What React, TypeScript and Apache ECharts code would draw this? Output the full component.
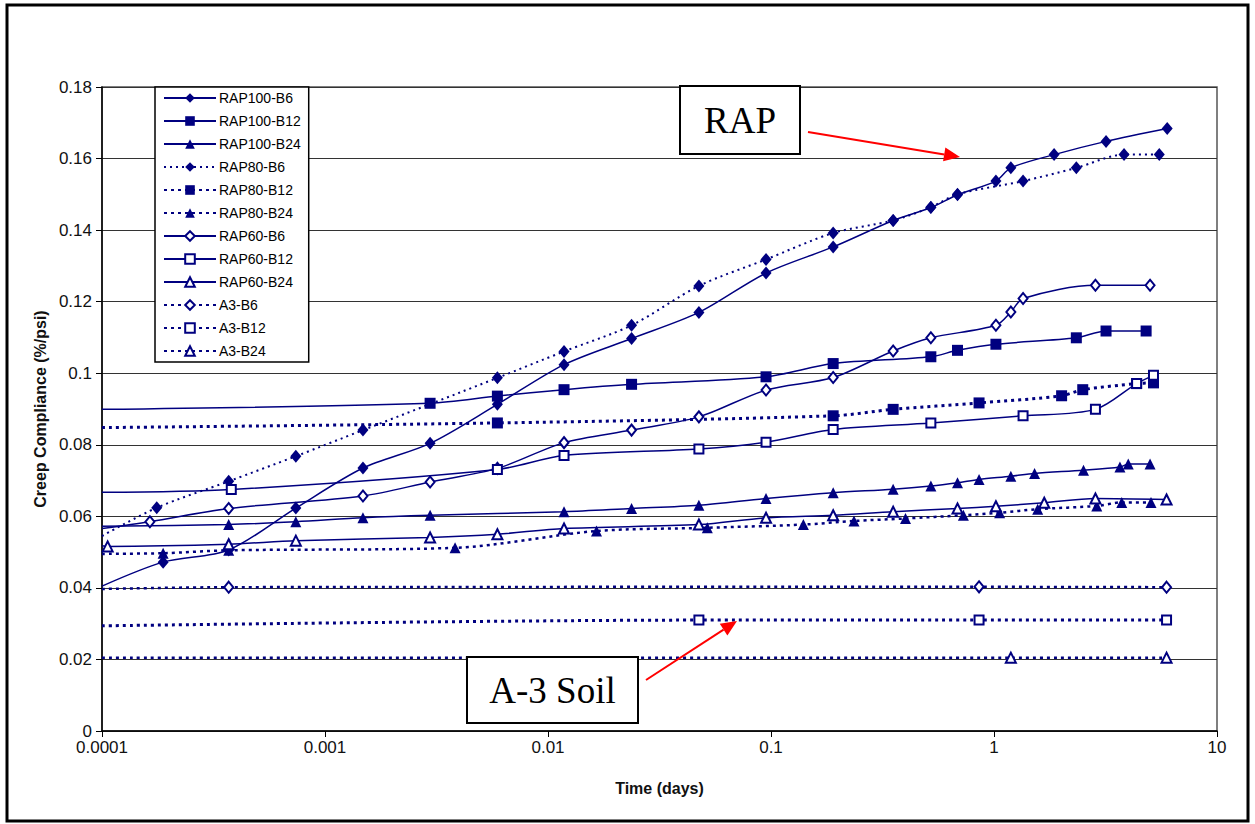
import React, { useEffect, useRef } from 'react';
import * as echarts from 'echarts';

// ---- data (time in days, creep compliance in %/psi) ----
const seriesNames = [
  'RAP100-B6', 'RAP100-B12', 'RAP100-B24',
  'RAP80-B6', 'RAP80-B12', 'RAP80-B24',
  'RAP60-B6', 'RAP60-B12', 'RAP60-B24',
  'A3-B6', 'A3-B12', 'A3-B24',
];

const rap100B6 = [[1e-4, 0.0405], [1.88e-4, 0.0472], [3.7e-4, 0.0506], [7.4e-4, 0.0623], [1.48e-3, 0.0735], [2.96e-3, 0.0804], [5.93e-3, 0.0913], [0.0118, 0.1024], [0.0237, 0.1097], [0.0475, 0.117], [0.095, 0.128], [0.19, 0.1353], [0.353, 0.1427], [0.521, 0.1463], [0.686, 0.1499], [1.02, 0.1537], [1.19, 0.1574], [1.86, 0.1611], [3.18, 0.1648], [5.98, 0.1684]];
const rap100B12 = [[1e-4, 0.0899], [2.96e-3, 0.0916], [5.93e-3, 0.0936], [0.0118, 0.0954], [0.0237, 0.0969], [0.095, 0.099], [0.19, 0.1027], [0.521, 0.1046], [0.686, 0.1064], [1.02, 0.1081], [2.34, 0.1099], [3.18, 0.1118], [4.81, 0.1118]];
const rap100B24 = [[1e-4, 0.0572], [3.7e-4, 0.0577], [7.4e-4, 0.0585], [1.48e-3, 0.0596], [2.96e-3, 0.0603], [0.0118, 0.0613], [0.0237, 0.0622], [0.0475, 0.0631], [0.095, 0.065], [0.19, 0.0666], [0.353, 0.0676], [0.521, 0.0685], [0.686, 0.0694], [0.857, 0.0703], [1.19, 0.0712], [1.52, 0.072], [2.52, 0.0729], [3.67, 0.0738], [4.0, 0.0746], [5.01, 0.0746]];
const rap80B6 = [[1e-4, 0.0545], [1.76e-4, 0.0624], [3.7e-4, 0.0698], [7.4e-4, 0.0768], [1.48e-3, 0.0841], [5.93e-3, 0.0987], [0.0118, 0.1061], [0.0237, 0.1134], [0.0475, 0.1244], [0.095, 0.1318], [0.19, 0.1392], [0.353, 0.1427], [0.521, 0.1464], [0.686, 0.15], [1.35, 0.1537], [2.34, 0.1574], [3.83, 0.1611], [5.51, 0.1611]];
const rap80B12 = [[1e-4, 0.0848], [5.93e-3, 0.0861], [0.19, 0.0881], [0.353, 0.0899], [0.857, 0.0917], [2.01, 0.0937], [2.5, 0.0954], [4.36, 0.0971], [5.19, 0.0973]];
const rap80B24 = [[1e-4, 0.0495], [1.88e-4, 0.0497], [3.7e-4, 0.0505], [3.83e-3, 0.0512], [0.0165, 0.0559], [0.0518, 0.0568], [0.1397, 0.0577], [0.2356, 0.0587], [0.401, 0.0594], [0.729, 0.0603], [1.06, 0.061], [1.57, 0.062], [2.89, 0.0629], [3.74, 0.0639], [5.06, 0.0639]];
const rap60B6 = [[1e-4, 0.0566], [1.64e-4, 0.0585], [3.7e-4, 0.0622], [1.48e-3, 0.0657], [2.96e-3, 0.0696], [5.93e-3, 0.0734], [0.0118, 0.0806], [0.0237, 0.0841], [0.0475, 0.0878], [0.095, 0.0953], [0.19, 0.0988], [0.353, 0.1062], [0.521, 0.1099], [1.02, 0.1134], [1.19, 0.1171], [1.35, 0.1209], [2.85, 0.1246], [5.01, 0.1246]];
const rap60B12 = [[1e-4, 0.0667], [3.8e-4, 0.0675], [5.93e-3, 0.0731], [0.0118, 0.077], [0.0475, 0.0788], [0.095, 0.0807], [0.19, 0.0843], [0.521, 0.0861], [1.35, 0.0881], [2.85, 0.0899], [4.36, 0.0971], [5.19, 0.0994]];
const rap60B24 = [[1e-4, 0.0518], [1.06e-4, 0.0516], [3.7e-4, 0.0522], [7.4e-4, 0.0532], [2.96e-3, 0.0541], [5.93e-3, 0.055], [0.0118, 0.0566], [0.0475, 0.0577], [0.095, 0.0596], [0.19, 0.0603], [0.353, 0.0613], [0.686, 0.0622], [1.02, 0.0628], [1.68, 0.0638], [2.85, 0.065], [5.94, 0.0647]];
const a3B6 = [[1e-4, 0.0397], [3.7e-4, 0.0402], [0.857, 0.0403], [5.94, 0.0402]];
const a3B12 = [[1e-4, 0.0294], [0.0475, 0.031], [0.857, 0.031], [5.94, 0.031]];
const a3B24 = [[1e-4, 0.0205], [1.19, 0.0205], [5.94, 0.0205]];

const xTickLabels = ['0.0001', '0.001', '0.01', '0.1', '1', '10'];
const yTickLabels = ['0', '0.02', '0.04', '0.06', '0.08', '0.1', '0.12', '0.14', '0.16', '0.18'];

const seriesData = [rap100B6, rap100B12, rap100B24, rap80B6, rap80B12, rap80B24, rap60B6, rap60B12, rap60B24, a3B6, a3B12, a3B24];

const NAVY = '#000080';
const FONT = '"Liberation Sans", Arial, sans-serif';

type Style = { symbol: string; size: number | number[]; width: number; dash: any };
const styles: Style[] = [
  { symbol: 'diamond', size: [11, 13], width: 1.5, dash: 'solid' },
  { symbol: 'rect', size: 11, width: 1.5, dash: 'solid' },
  { symbol: 'triangle', size: 11, width: 1.5, dash: 'solid' },
  { symbol: 'diamond', size: [11, 13], width: 2, dash: [2, 4] },
  { symbol: 'rect', size: 11, width: 3, dash: [3, 4] },
  { symbol: 'triangle', size: 11, width: 2.5, dash: [3, 4] },
  { symbol: 'emptyDiamond', size: [9, 11], width: 1.5, dash: 'solid' },
  { symbol: 'emptyRect', size: 9, width: 1.5, dash: 'solid' },
  { symbol: 'emptyTriangle', size: 10, width: 1.5, dash: 'solid' },
  { symbol: 'emptyDiamond', size: [9, 11], width: 2.5, dash: [3, 4] },
  { symbol: 'emptyRect', size: 9, width: 3, dash: [3, 4] },
  { symbol: 'emptyTriangle', size: 10, width: 2.5, dash: [3, 4] },
];

function arrow(x1: number, y1: number, x2: number, y2: number, head: number, half: number) {
  const dx = x2 - x1, dy = y2 - y1;
  const len = Math.sqrt(dx * dx + dy * dy);
  const ux = dx / len, uy = dy / len;
  const bx = x2 - ux * head, by = y2 - uy * head;
  const px = -uy, py = ux;
  return [
    { type: 'line', shape: { x1, y1, x2: bx, y2: by }, style: { stroke: '#ff0000', lineWidth: 2 }, z: 100 },
    {
      type: 'polygon',
      shape: { points: [[x2, y2], [bx + px * half, by + py * half], [bx - px * half, by - py * half]] },
      style: { fill: '#ff0000' }, z: 100,
    },
  ];
}

function boxLabel(x: number, y: number, w: number, h: number, text: string) {
  return [
    { type: 'rect', shape: { x, y, width: w, height: h }, style: { fill: '#fff', stroke: '#000', lineWidth: 2 }, z: 100 },
    {
      type: 'text', x: x + w / 2, y: y + h / 2, z: 101,
      style: {
        text, fill: '#000', fontSize: 37, fontFamily: '"Liberation Serif", "Times New Roman", serif',
        align: 'center', verticalAlign: 'middle', textAlign: 'center', textVerticalAlign: 'middle',
      },
    },
  ];
}

export default function App() {
  const ref = useRef<HTMLDivElement>(null);
  useEffect(() => {
    if (!ref.current) return;
    const chart = echarts.init(ref.current, undefined, { renderer: 'svg' });
    const series = seriesNames.map((name, i) => {
      const st = styles[i];
      const data = seriesData[i].map((p, j) => (j === 0 ? { value: p, symbol: 'none' } : p));
      return {
        name,
        type: 'line',
        data,
        smooth: 0.3,
        symbol: st.symbol,
        symbolSize: st.size,
        showAllSymbol: true,
        lineStyle: { color: NAVY, width: st.width, type: st.dash },
        itemStyle: { color: NAVY, borderColor: NAVY, borderWidth: st.symbol.startsWith('empty') ? 1.5 : 0 },
        emphasis: { disabled: true },
      };
    });
    chart.setOption({
      animation: false,
      backgroundColor: '#fff',
      textStyle: { fontFamily: FONT },
      grid: { left: 102, right: 38, top: 87, bottom: 93, show: true, borderColor: '#555', borderWidth: 1.5 },
      legend: {
        orient: 'vertical',
        left: 155,
        top: 87,
        itemWidth: 52,
        itemHeight: 12,
        itemGap: 9,
        padding: [4, 8, 4, 8],
        backgroundColor: '#fff',
        borderColor: '#000',
        borderWidth: 1.5,
        selectedMode: false,
        textStyle: { fontSize: 14, color: '#000', fontFamily: FONT, padding: [0, 0, 0, -2] },
        data: seriesNames,
      },
      xAxis: {
        type: 'log',
        logBase: 10,
        min: 0.0001,
        max: 10,
        splitNumber: 5,
        name: 'Time (days)',
        nameLocation: 'middle',
        nameGap: 49,
        nameTextStyle: { fontSize: 16, fontWeight: 'bold', color: '#111', fontFamily: FONT },
        axisLine: { lineStyle: { color: '#000', width: 1.5 } },
        axisTick: { show: true, inside: false, length: 6, lineStyle: { color: '#000' } },
        minorTick: { show: false },
        splitLine: { show: false },
        axisLabel: {
          fontSize: 17, color: '#111', margin: 8, fontFamily: FONT,
          formatter: (v: number) => xTickLabels[Math.round(Math.log10(v)) + 4] ?? '',
        },
      },
      yAxis: {
        type: 'value',
        min: 0,
        max: 0.18,
        interval: 0.02,
        name: 'Creep Compliance (%/psi)',
        nameLocation: 'middle',
        nameRotate: 90,
        nameGap: 49,
        nameTextStyle: { fontSize: 16, fontWeight: 'bold', color: '#111', fontFamily: FONT },
        axisLine: { show: true, lineStyle: { color: '#000', width: 1.5 } },
        axisTick: { show: true, inside: false, length: 6, lineStyle: { color: '#000' } },
        splitLine: { show: true, lineStyle: { color: '#333', width: 1 } },
        axisLabel: {
          fontSize: 17, color: '#111', margin: 10, fontFamily: FONT,
          formatter: (v: number) => yTickLabels[Math.round(v / 0.02)] ?? '',
        },
      },
      series,
      graphic: [
        { type: 'rect', shape: { x: 7, y: 5, width: 1241, height: 816 }, style: { fill: 'none', stroke: '#000', lineWidth: 3 }, z: 200, silent: true },
        ...boxLabel(680, 86, 120, 68, 'RAP'),
        ...arrow(808, 132, 960, 157, 16, 7),
        ...boxLabel(467, 657, 171, 66, 'A-3 Soil'),
        ...arrow(646, 680, 737, 621, 16, 7),
      ],
    });
    return () => chart.dispose();
  }, []);
  return <div ref={ref} style={{ position: 'absolute', left: 0, top: 0, width: 1255, height: 824 }} />;
}
